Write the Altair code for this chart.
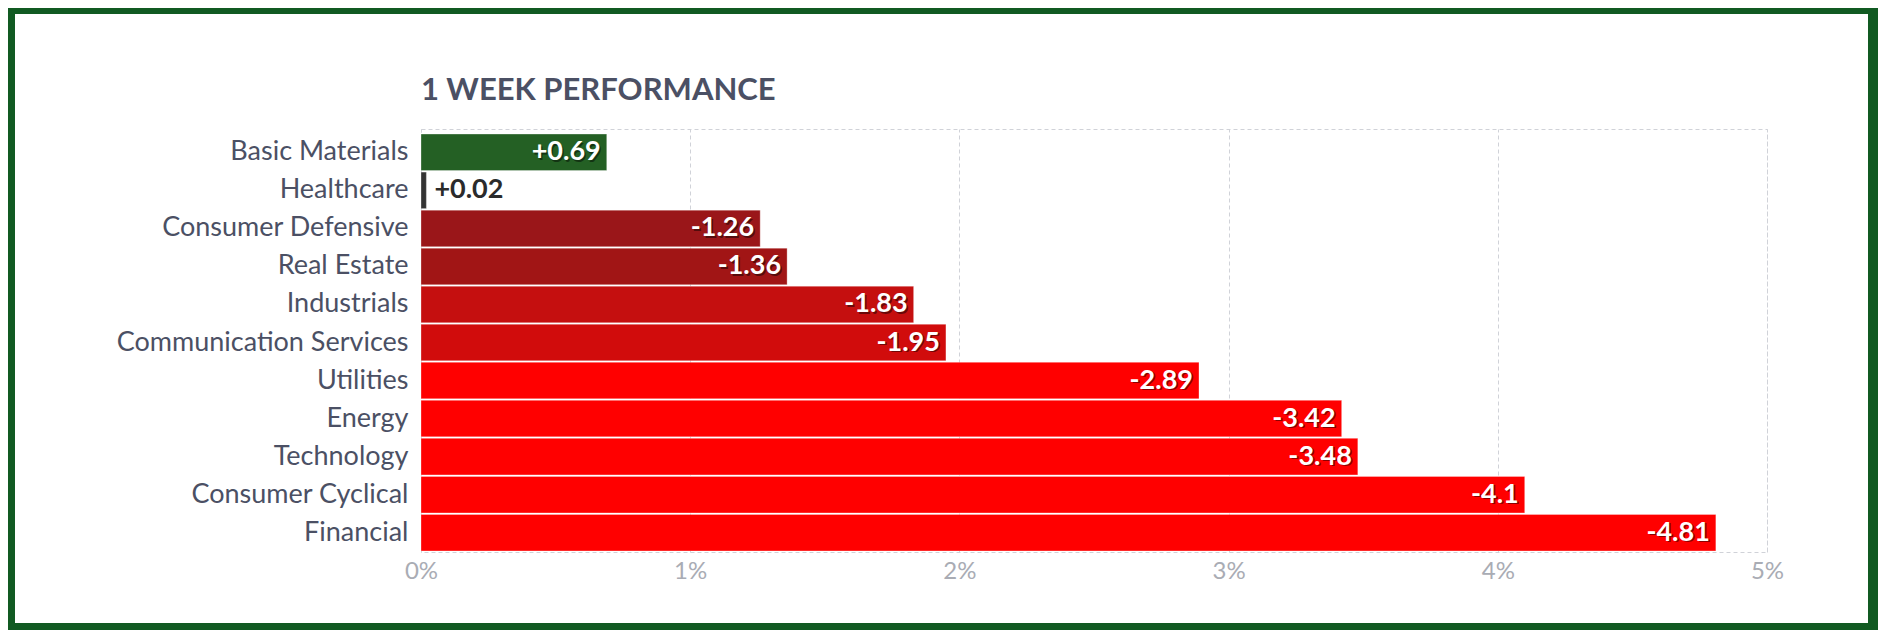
import altair as alt
import pandas as pd

# ---- data ----
sectors = [
    "Basic Materials", "Healthcare", "Consumer Defensive", "Real Estate",
    "Industrials", "Communication Services", "Utilities", "Energy",
    "Technology", "Consumer Cyclical", "Financial",
]
changes = [0.69, 0.02, -1.26, -1.36, -1.83, -1.95, -2.89, -3.42, -3.48, -4.1, -4.81]
bar_colors = [
    "#246024", "#333333", "#9a1619", "#a11515", "#c50f0f", "#d10c0c",
    "#ff0000", "#ff0000", "#ff0000", "#ff0000", "#ff0000",
]
label_inside = [True, False, True, True, True, True, True, True, True, True, True]
tick_values = [0, 1, 2, 3, 4, 5]
title_text = "1 WEEK PERFORMANCE"

df = pd.DataFrame({
    "sector": sectors,
    "change": changes,
    "size": [abs(v) for v in changes],
    "label": [f"+{v}" if v > 0 else f"{v}" for v in changes],
    "inside": label_inside,
})

W, H = 1346, 423
FONT = "Lato"
TEXT_COL = "#4b5064"
FRAME = "#115a22"
LBL = 27

y_enc = alt.Y(
    "sector:N", sort=sectors,
    scale=alt.Scale(paddingInner=0.04, paddingOuter=0.08, align=0.83),
    axis=alt.Axis(title=None, ticks=False, domain=False, labelFont=FONT,
                  labelFontSize=27, labelColor=TEXT_COL, labelPadding=13,
                  labelLimit=500, zindex=1),
)
x_enc = alt.X(
    "size:Q",
    scale=alt.Scale(domain=[0, 5], nice=False, zero=True),
    axis=alt.Axis(title=None, values=tick_values, labelExpr="datum.value + '%'",
                  ticks=False, domain=False, grid=True, gridColor="#d0d2d8",
                  gridDash=[4, 3], labelFont=FONT, labelFontSize=24,
                  labelColor="#a9acb4", labelPadding=7, labelFlush=False),
)

base = alt.Chart(df).encode(y=y_enc)

bars = base.mark_bar(stroke="white", strokeOpacity=0.3, strokeWidth=1).encode(
    x=x_enc,
    color=alt.Color("sector:N", scale=alt.Scale(domain=sectors, range=bar_colors), legend=None),
)

shadow = base.transform_filter("datum.inside").mark_text(
    align="right", baseline="middle", dx=-4.5, dy=1.5, font=FONT, fontSize=LBL,
    fontWeight="bold", color="black", opacity=0.45,
).encode(x=alt.X("size:Q"), text="label:N")

inside = base.transform_filter("datum.inside").mark_text(
    align="right", baseline="middle", dx=-6, font=FONT, fontSize=LBL,
    fontWeight="bold", color="white",
).encode(x=alt.X("size:Q"), text="label:N")

outside = base.transform_filter("!datum.inside").mark_text(
    align="left", baseline="middle", dx=8, font=FONT, fontSize=LBL,
    fontWeight="bold", color="#2b2b2b",
).encode(x=alt.X("size:Q"), text="label:N")

one = alt.Data(values=[{}])

title = alt.Chart(one).mark_text(
    text=title_text, align="left", baseline="alphabetic", font=FONT,
    fontSize=31, fontWeight="bold", color=TEXT_COL,
).encode(x=alt.value(0), y=alt.value(-29))


def strip(x1, x2, y1, y2):
    return alt.Chart(one).mark_rect(color=FRAME).encode(
        x=alt.value(x1), x2=alt.value(x2), y=alt.value(y1), y2=alt.value(y2)
    )


frame = [
    strip(-413, -406, -121, 501),
    strip(-413, 1457, -121, -115),
    strip(1447, 1457, -121, 501),
    strip(-413, 1457, 494, 501),
]

chart = alt.layer(*frame, bars, shadow, inside, outside, title).properties(
    width=W, height=H, padding=0, background="white",
).configure_view(stroke="#d0d2d8", strokeDash=[4, 3], strokeWidth=1)

chart.save("out.html", embed_options={"renderer": "svg", "actions": False})
